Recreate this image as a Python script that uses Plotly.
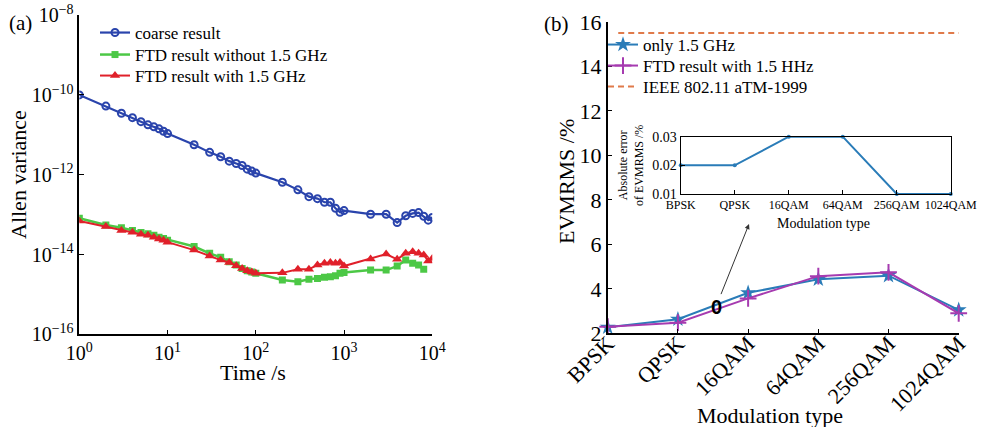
import plotly.graph_objects as go

# ---------------- data: panel (a) ----------------
time_s = [1, 2, 3, 4, 5, 6, 7, 8, 9, 10,
          20, 30, 40, 50, 60, 70, 80, 90, 100,
          200, 300, 400, 500, 600, 700, 800, 900, 1000,
          2000, 3000, 4000, 5000, 6000, 7000, 8000, 9000, 10000]
coarse_log = [-10.00, -10.28, -10.46, -10.57, -10.67, -10.75, -10.80, -10.85, -10.91, -10.97,
              -11.25, -11.44, -11.55, -11.66, -11.72, -11.77, -11.86, -11.91, -11.96,
              -12.19, -12.38, -12.55, -12.60, -12.69, -12.69, -12.84, -12.94, -12.90,
              -12.99, -12.99, -13.20, -13.03, -12.97, -12.95, -13.04, -13.14, -13.07]
with_log = [-13.16, -13.30, -13.40, -13.44, -13.49, -13.52, -13.57, -13.61, -13.64, -13.69,
            -13.89, -14.04, -14.14, -14.20, -14.28, -14.35, -14.41, -14.44, -14.47,
            -14.46, -14.37, -14.37, -14.26, -14.22, -14.20, -14.22, -14.20, -14.29,
            -14.11, -13.99, -14.12, -13.97, -13.93, -13.97, -14.01, -14.16, -14.10]
time_s_wo = time_s[:35]
without_log = [-13.09, -13.26, -13.33, -13.40, -13.45, -13.48, -13.52, -13.57, -13.60, -13.64,
               -13.80, -13.97, -14.07, -14.18, -14.26, -14.35, -14.41, -14.44, -14.47,
               -14.64, -14.68, -14.62, -14.60, -14.57, -14.56, -14.53, -14.47, -14.45,
               -14.39, -14.39, -14.29, -14.14, -14.22, -14.26, -14.37]
coarse = [10 ** v for v in coarse_log]
ftd_with = [10 ** v for v in with_log]
ftd_without = [10 ** v for v in without_log]

x_tickvals_a = [1, 10, 100, 1000, 10000]
x_ticktext_a = ["10<sup>0</sup>", "10<sup>1</sup>", "10<sup>2</sup>", "10<sup>3</sup>", "10<sup>4</sup>"]
y_tickvals_a = [1e-16, 1e-14, 1e-12, 1e-10, 1e-8]
y_ticktext_a = ["10<sup>\u221216</sup>", "10<sup>\u221214</sup>", "10<sup>\u221212</sup>",
                "10<sup>\u221210</sup>", "10<sup>\u22128</sup>"]

# ---------------- data: panel (b) ----------------
modulations = ["BPSK", "QPSK", "16QAM", "64QAM", "256QAM", "1024QAM"]
only_15 = [2.27, 2.63, 3.82, 4.43, 4.59, 3.05]
ftd_15 = [2.30, 2.48, 3.57, 4.57, 4.74, 2.90]
ieee_limit = 15.5
abs_error = [0.02, 0.02, 0.03, 0.03, 0.01, 0.01]
y_tickvals_b = [2, 4, 6, 8, 10, 12, 14, 16]
y_tickvals_inset = [0.01, 0.02, 0.03]

idx = list(range(len(modulations)))

SERIF = "Liberation Serif"
W, H = 984, 427
fig = go.Figure()

# panel (a)
fig.add_trace(go.Scatter(x=time_s, y=coarse, mode="lines+markers", name="coarse result",
                         line=dict(color="#2a44ac", width=2.2),
                         marker=dict(symbol="circle-open", size=7, line=dict(width=2, color="#2a44ac")),
                         xaxis="x", yaxis="y", legend="legend"))
fig.add_trace(go.Scatter(x=time_s_wo, y=ftd_without, mode="lines+markers", name="FTD result without 1.5 GHz",
                         line=dict(color="#4cc846", width=2.5),
                         marker=dict(symbol="square", size=7, color="#4cc846"),
                         xaxis="x", yaxis="y", legend="legend3"))
fig.add_trace(go.Scatter(x=time_s, y=ftd_with, mode="lines+markers", name="FTD result with 1.5 GHz",
                         line=dict(color="#e0202a", width=2),
                         marker=dict(symbol="triangle-up", size=9, color="#e0202a"),
                         xaxis="x", yaxis="y", legend="legend4"))

# panel (b)
fig.add_trace(go.Scatter(x=idx, y=only_15, mode="lines+markers", name="only 1.5 GHz",
                         line=dict(color="#2a7cb8", width=2),
                         marker=dict(symbol="star", size=12, color="#2a7cb8"),
                         cliponaxis=False, xaxis="x2", yaxis="y2", legend="legend2"))
fig.add_trace(go.Scatter(x=idx, y=ftd_15, mode="lines+markers", name="FTD result with 1.5 HHz",
                         line=dict(color="#a63bb0", width=2),
                         marker=dict(symbol="cross-thin-open", size=12, line=dict(width=2, color="#a63bb0")),
                         cliponaxis=False, xaxis="x2", yaxis="y2", legend="legend5"))
fig.add_trace(go.Scatter(x=[0.15, 5], y=[ieee_limit, ieee_limit], mode="lines", name="IEEE 802.11 aTM-1999",
                         line=dict(color="#e07a4a", width=2, dash="6px,4px"),
                         xaxis="x2", yaxis="y2", legend="legend6"))

# inset
fig.add_trace(go.Scatter(x=idx, y=abs_error, mode="lines+markers", showlegend=False,
                         line=dict(color="#2a7cb8", width=2),
                         marker=dict(size=4, color="#2a7cb8"),
                         cliponaxis=False, xaxis="x3", yaxis="y3"))

axis_common = dict(showline=True, linecolor="black", linewidth=1.5, ticks="inside", ticklen=5,
                   tickcolor="black", showgrid=False, zeroline=False, automargin=False,
                   tickfont=dict(family=SERIF, size=20, color="black"))


def leg(px_x, px_y):
    return dict(x=(px_x - 40) / W, y=1 - px_y / H, xanchor="left", yanchor="middle",
                bgcolor="rgba(0,0,0,0)", font=dict(family=SERIF, size=17, color="black"))


def ann(text, px_x, px_y, size, angle=0):
    return dict(text=text, x=px_x / W, y=1 - px_y / H, xref="paper", yref="paper",
                xanchor="center", yanchor="middle", showarrow=False, textangle=angle,
                font=dict(family=SERIF, size=size, color="black"))


fig.update_layout(
    width=W, height=H,
    margin=dict(l=0, r=0, t=0, b=0),
    paper_bgcolor="white", plot_bgcolor="rgba(0,0,0,0)",
    font=dict(family=SERIF, color="black"),
    xaxis=dict(axis_common, type="log", range=[0, 4], domain=[0.0806, 0.4393],
               tickvals=x_tickvals_a, ticktext=x_ticktext_a, anchor="y"),
    yaxis=dict(axis_common, type="log", range=[-16, -8], domain=[0.2171, 0.9646],
               tickvals=y_tickvals_a, ticktext=y_ticktext_a, anchor="x"),
    xaxis2=dict(axis_common, range=[0, 5], domain=[0.6176, 0.9743], anchor="y2",
                tickvals=idx, ticktext=modulations, tickangle=-45, ticklabelstandoff=-13,
                tickfont=dict(family=SERIF, size=22, color="black")),
    yaxis2=dict(axis_common, range=[2, 16], domain=[0.2194, 0.9489], anchor="x2",
                tickvals=y_tickvals_b, tickfont=dict(family=SERIF, size=22, color="black")),
    xaxis3=dict(axis_common, range=[0, 5], domain=[0.6918, 0.9662], anchor="y3", mirror=True,
                linewidth=1.2, tickvals=idx, ticktext=modulations, ticklen=4, tickangle=0,
                tickfont=dict(family=SERIF, size=12, color="black")),
    yaxis3=dict(axis_common, range=[0.01, 0.03], domain=[0.5457, 0.6799], anchor="x3", mirror=True,
                linewidth=1.2, tickvals=y_tickvals_inset, tickformat=".2f", ticklen=4,
                tickfont=dict(family=SERIF, size=14, color="black")),
    legend=leg(135, 33),
    legend3=leg(135, 55),
    legend4=leg(135, 76),
    legend2=leg(643, 45),
    legend5=leg(643, 66),
    legend6=leg(643, 87),
    annotations=[
        ann("(a)", 20, 23, 21),
        ann("(b)", 556, 24, 21),
        ann("Allen variance", 18, 175, 22, -90),
        ann("Time /s", 253, 372, 22),
        ann("EVMRMS /%", 566, 182, 22, -90),
        ann("Modulation type", 770, 415, 22),
        ann("Absolute error<br>of EVMRMS /%", 631, 166, 12, -90),
        ann("Modulation type", 823, 223, 14),
        dict(text="<b>0</b>", x=2.013, y=6.91, xref="x2", yref="y2", ax=1.543, ay=3.2,
             axref="x2", ayref="y2", showarrow=True, arrowhead=2, arrowsize=1, arrowwidth=1,
             arrowcolor="#333333", standoff=0, startstandoff=0,
             font=dict(family="Liberation Sans", size=20, color="black")),
    ],
)

fig.write_html("out.html")
